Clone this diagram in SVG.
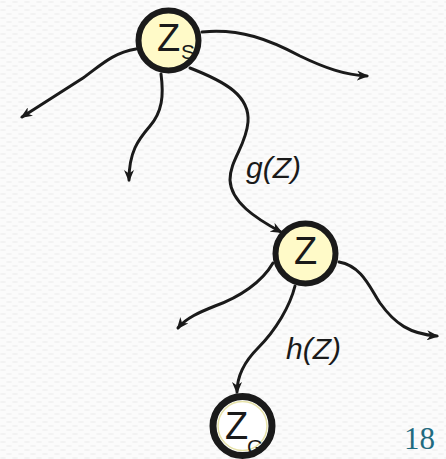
<svg xmlns="http://www.w3.org/2000/svg" width="446" height="459" viewBox="0 0 446 459">
  <defs>
    <pattern id="paper" width="12" height="8" patternUnits="userSpaceOnUse">
      <rect width="12" height="8" fill="#fbfbfb"/>
      <ellipse cx="3" cy="2" rx="3" ry="1" fill="#f2f2f2"/>
      <ellipse cx="9" cy="6" rx="3" ry="1" fill="#f2f2f2"/>
    </pattern>
    <marker id="arrow" viewBox="0 0 12 10" refX="10" refY="5" markerWidth="12" markerHeight="10" markerUnits="userSpaceOnUse" orient="auto">
      <path d="M0,0 L12,5 L0,10 L3.5,5 Z" fill="#1a1a1a"/>
    </marker>
  </defs>
  <style>
    .edge { fill: none; stroke: #1a1a1a; stroke-width: 3; stroke-linecap: round; marker-end: url(#arrow); }
    .state { fill: #fffac8; stroke: #1a1a1a; stroke-width: 6; }
    .goal { fill: #ffffff; stroke: #1a1a1a; stroke-width: 7; }
    .goal-ring { fill: none; stroke: #e6e2a8; stroke-width: 1.5; }
    .name { font-family: "Liberation Sans", Arial, sans-serif; font-size: 38px; fill: #1a1a1a; }
    .sub { font-family: "Liberation Sans", Arial, sans-serif; font-size: 21px; fill: #1a1a1a; }
    .cost { font-family: "Liberation Sans", Arial, sans-serif; font-size: 30px; font-style: italic; fill: #1a1a1a; }
    .page { font-family: "Liberation Serif", "Times New Roman", serif; font-size: 31px; fill: #1f6b80; }
  </style>

  <rect width="446" height="459" fill="url(#paper)"/>

  <g id="connectors">
    <!-- from the start node -->
    <path class="edge" d="M136,49 C112,53 100,66 83,78 L22,117"/>
    <path class="edge" d="M161,74 C164,96 162,112 150,126 C138,140 129,152 129,180"/>
    <path class="edge" d="M202,32 C240,28 270,40 300,56 C325,68 345,75 367,76"/>
    <path class="edge" d="M190,68 C226,82 250,96 248,122 C246,146 230,160 230,180 C231,202 255,218 281,232"/>
    <!-- from the intermediate node -->
    <path class="edge" d="M273,263 C262,282 240,297 215,306 C200,312 186,318 178,328"/>
    <path class="edge" d="M295,286 C290,306 276,330 258,348 C244,362 237,376 237,392"/>
    <path class="edge" d="M339,262 C362,266 370,288 380,303 C395,324 410,334 437,336"/>
  </g>

  <g id="label-g">
    <text class="cost" x="246" y="178">g(Z)</text>
  </g>
  <g id="label-h">
    <text class="cost" x="286" y="359">h(Z)</text>
  </g>

  <g id="node-start">
    <circle class="state" cx="168.5" cy="40.5" r="30"/>
    <text class="name" x="157" y="51">Z</text>
    <text class="sub" x="181" y="59">S</text>
  </g>

  <g id="node-mid">
    <circle class="state" cx="305.5" cy="253.5" r="30"/>
    <text class="name" x="294" y="264">Z</text>
  </g>

  <g id="node-goal">
    <circle class="goal" cx="242.5" cy="426" r="29.5"/>
    <circle class="goal-ring" cx="242.5" cy="426" r="24.5"/>
    <text class="name" x="225" y="439">Z</text>
    <text class="sub" x="247" y="454">G</text>
  </g>

  <g id="page-number">
    <text class="page" x="404" y="449">18</text>
  </g>
</svg>
